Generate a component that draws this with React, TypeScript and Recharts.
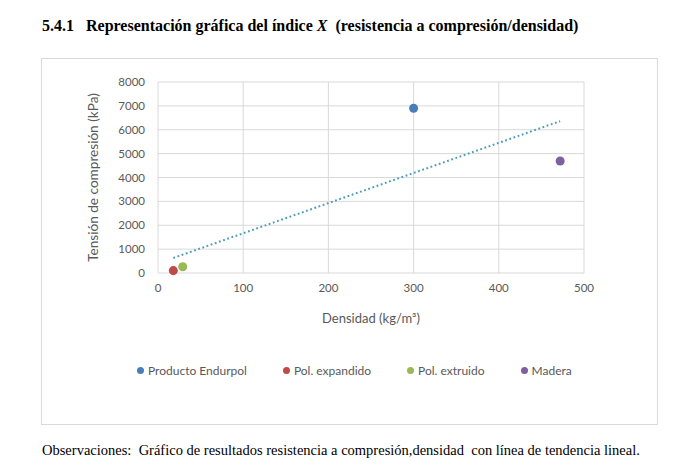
import React from "react"
import {
  ScatterChart,
  Scatter,
  XAxis,
  YAxis,
  ZAxis,
  CartesianGrid,
  Legend,
} from "recharts"

const materiales = ["Producto Endurpol", "Pol. expandido", "Pol. extruido", "Madera"]
const densidad = [300, 18, 29, 472]
const tension = [6900, 100, 260, 4690]
const colores = ["#4A7EBB", "#BE4B48", "#98B954", "#7D60A0"]

const xTicks = [0, 100, 200, 300, 400, 500]
const yTicks = [0, 1000, 2000, 3000, 4000, 5000, 6000, 7000, 8000]

// linea de tendencia lineal (minimos cuadrados sobre los 4 puntos)
const n = densidad.length
const mx = densidad.reduce((a, b) => a + b, 0) / n
const my = tension.reduce((a, b) => a + b, 0) / n
let sxy = 0
let sxx = 0
densidad.forEach((x, i) => {
  sxy += (x - mx) * (tension[i] - my)
  sxx += (x - mx) * (x - mx)
})
const pendiente = sxy / sxx
const ordenada = my - pendiente * mx
const trendData = [Math.min(...densidad), Math.max(...densidad)].map((x) => ({
  x,
  y: ordenada + pendiente * x,
}))

const FONT = "Lato, 'Open Sans', sans-serif"
const GRIS = "#595959"

function LegendContent() {
  return (
    <div style={{ display: "flex", fontFamily: FONT, fontSize: 12, color: GRIS, whiteSpace: "nowrap" }}>
      {materiales.map((m, i) => (
        <div key={m} style={{ display: "flex", alignItems: "center", marginRight: 36 }}>
          <span
            style={{
              display: "inline-block",
              width: 7,
              height: 7,
              borderRadius: "50%",
              background: colores[i],
              marginRight: 4,
            }}
          />
          {m}
        </div>
      ))}
    </div>
  )
}

export default function App() {
  return (
    <div style={{ position: "absolute", left: 0, top: 0, width: 690, height: 474, background: "#fff" }}>
      <div
        style={{
          position: "absolute",
          left: 42,
          top: 17,
          fontFamily: "'Liberation Serif', 'Times New Roman', serif",
          fontWeight: "bold",
          fontSize: 16,
          whiteSpace: "pre",
          color: "#000",
        }}
      >
        {"5.4.1   Representación gráfica del índice "}
        <i>X</i>
        {"  (resistencia a compresión/densidad)"}
      </div>

      <div
        style={{
          position: "absolute",
          left: 41,
          top: 58,
          width: 617,
          height: 367,
          border: "1px solid #D9D9D9",
          boxSizing: "border-box",
        }}
      >
        <ScatterChart width={615} height={365} margin={{ top: 23, right: 73, left: 56, bottom: 101 }}>
          <CartesianGrid stroke="#D9D9D9" />
          <XAxis
            type="number"
            dataKey="x"
            domain={[0, 500]}
            ticks={xTicks}
            height={50}
            axisLine={false}
            tickLine={false}
            tickMargin={5}
            tick={{ fontSize: 11.5, fill: GRIS, fontFamily: FONT }}
            label={{
              content: ({ viewBox }: any) => (
                <text
                  x={viewBox.x + viewBox.width / 2}
                  y={viewBox.y + 50}
                  textAnchor="middle"
                  fontSize={13}
                  fill={GRIS}
                  fontFamily={FONT}
                >
                  Densidad (kg/m³)
                </text>
              ),
            }}
          />
          <YAxis
            type="number"
            dataKey="y"
            domain={[0, 8000]}
            ticks={yTicks}
            width={60}
            axisLine={false}
            tickLine={false}
            tickMargin={7}
            tick={{ fontSize: 11.5, fill: GRIS, fontFamily: FONT }}
            label={{
              content: ({ viewBox }: any) => {
                const cx = viewBox.x - 5
                const cy = viewBox.y + viewBox.height / 2
                return (
                  <text
                    x={cx}
                    y={cy}
                    transform={`rotate(-90 ${cx} ${cy})`}
                    textAnchor="middle"
                    dominantBaseline="central"
                    fontSize={13.6}
                    fill={GRIS}
                    fontFamily={FONT}
                  >
                    Tensión de compresión (kPa)
                  </text>
                )
              },
            }}
          />
          <ZAxis range={[50, 50]} />
          <Scatter
            name="tendencia"
            data={trendData}
            line={{ stroke: "#4A9CB8", strokeWidth: 2, strokeDasharray: "1.8 2.6" }}
            shape={() => null}
            legendType="none"
            isAnimationActive={false}
          />
          {materiales.map((m, i) => (
            <Scatter
              key={m}
              name={m}
              data={[{ x: densidad[i], y: tension[i] }]}
              fill={colores[i]}
              isAnimationActive={false}
            />
          ))}
          <Legend
            verticalAlign="middle"
            align="center"
            layout="horizontal"
            content={<LegendContent />}
            wrapperStyle={{ top: 304, left: 95, width: "auto" }}
          />
        </ScatterChart>
      </div>

      <div
        style={{
          position: "absolute",
          left: 42,
          top: 442,
          fontFamily: "'Liberation Serif', 'Times New Roman', serif",
          fontSize: 14.5,
          whiteSpace: "pre",
          color: "#000",
        }}
      >
        {"Observaciones:  Gráfico de resultados resistencia a compresión,densidad  con línea de tendencia lineal."}
      </div>
    </div>
  )
}
